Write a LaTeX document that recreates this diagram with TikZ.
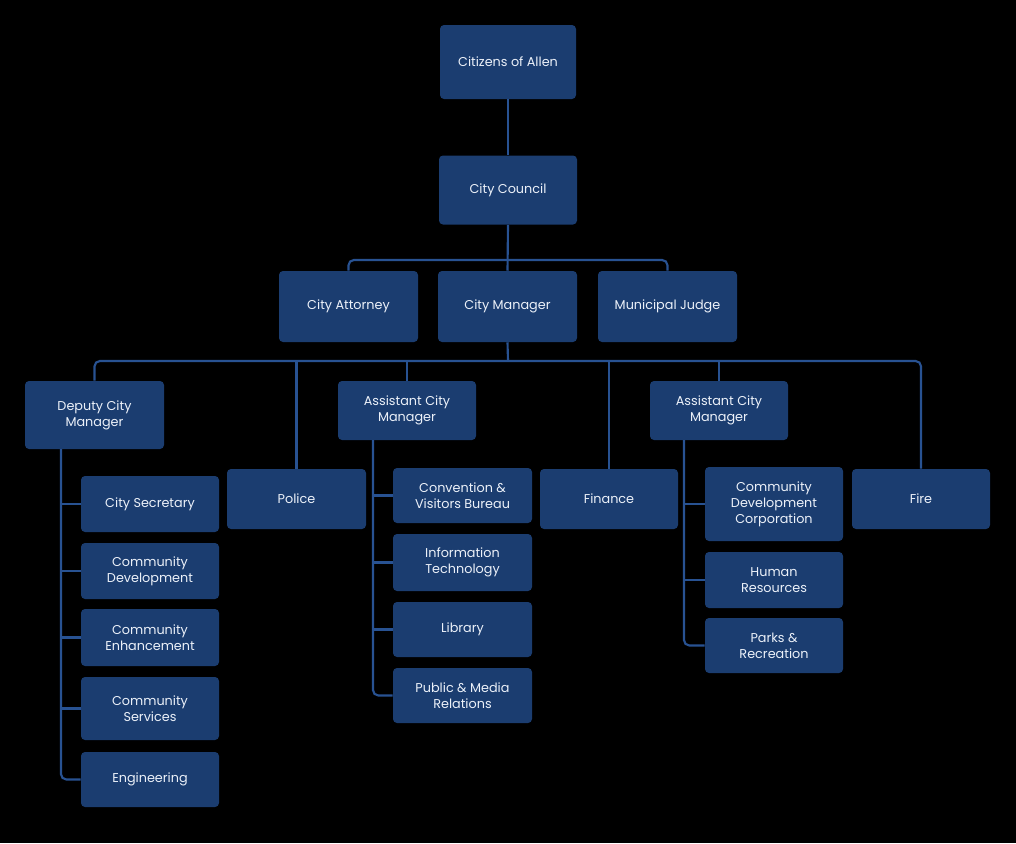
\documentclass[tikz,border=0pt]{standalone}
\usepackage{fontspec}
\setmainfont{Poppins}
\definecolor{boxblue}{RGB}{27,61,112}
\definecolor{lineblue}{RGB}{40,82,146}
\definecolor{txt}{RGB}{236,241,249}
\begin{document}
\begin{tikzpicture}[x=0.75pt,y=-0.75pt,
  unit/.style 2 args={draw=none, fill=boxblue, rounded corners=3pt, inner sep=0pt,
    minimum width=#1*0.75pt, minimum height=#2*0.75pt, align=center,
    text=txt, font=\fontsize{9.6pt}{12pt}\selectfont},
  link/.style={draw=lineblue, line width=1.6pt, rounded corners=4pt}]
\fill[black] (0,0) rectangle (1016,843);
\useasboundingbox (0,0) rectangle (1016,843);
% nodes
\node[unit={136}{74}] (cit) at (508,62) {Citizens of Allen};
\node[unit={138}{69}] (cc) at (508,190) {City Council};
\node[unit={139}{71}] (ca) at (348.5,306.5) {City Attorney};
\node[unit={139}{71}] (cm) at (507.5,306.5) {City Manager};
\node[unit={139}{71}] (mj) at (667.5,306.5) {Municipal Judge};
\node[unit={139}{68}] (dcm) at (94.5,415) {Deputy City\\Manager};
\node[unit={139}{60}] (pol) at (296.5,499) {Police};
\node[unit={138}{59}] (acma) at (407,410.5) {Assistant City\\Manager};
\node[unit={138}{60}] (fin) at (609,499) {Finance};
\node[unit={138}{59}] (acmb) at (719,410.5) {Assistant City\\Manager};
\node[unit={138}{60}] (fire) at (921,499) {Fire};
% deputy children
\node[unit={138}{56}] (cs) at (150,504) {City Secretary};
\node[unit={138}{56}] (cd) at (150,571) {Community\\Development};
\node[unit={138}{57}] (ce) at (150,637.5) {Community\\Enhancement};
\node[unit={138}{63}] (csv) at (150,708.5) {Community\\Services};
\node[unit={138}{55}] (eng) at (150,779.5) {Engineering};
% assistant 1 children
\node[unit={139}{55}] (cvb) at (462.5,495.5) {Convention \&\\Visitors Bureau};
\node[unit={139}{57}] (it) at (462.5,562.5) {Information\\Technology};
\node[unit={139}{55}] (lib) at (462.5,629.5) {Library};
\node[unit={139}{55}] (pmr) at (462.5,695.5) {Public \& Media\\Relations};
% assistant 2 children
\node[unit={138}{74}] (cdc) at (774,504) {Community\\Development\\Corporation};
\node[unit={138}{56}] (hr) at (774,580) {Human\\Resources};
\node[unit={138}{55}] (pr) at (774,645.5) {Parks \&\\Recreation};
% coordinates
\coordinate (b1) at (508,260);
\coordinate (b2) at (508,361);
\coordinate (tdA) at (61,449);
\coordinate (tdB) at (373,440);
\coordinate (tdC) at (684,440);
% connectors
\draw[link] (cit.south) -- (cc.north);
\draw[link] (cc.south) -- (cm.north);
\draw[link] (ca.north) |- (b1) -| (mj.north);
\draw[link] (cm.south) -- (b2);
\draw[link] (dcm.north) |- (b2) -| (fire.north);
\draw[link] (pol.north) -- (pol.north |- b2);
\draw[link] (acma.north) -- (acma.north |- b2);
\draw[link] (fin.north) -- (fin.north |- b2);
\draw[link] (acmb.north) -- (acmb.north |- b2);
% deputy trunk
\draw[link] (tdA) |- (eng.west);
\draw[link] (cs.west -| tdA) -- (cs.west);
\draw[link] (cd.west -| tdA) -- (cd.west);
\draw[link] (ce.west -| tdA) -- (ce.west);
\draw[link] (csv.west -| tdA) -- (csv.west);
% assistant 1 trunk
\draw[link] (tdB) |- (pmr.west);
\draw[link] (cvb.west -| tdB) -- (cvb.west);
\draw[link] (it.west -| tdB) -- (it.west);
\draw[link] (lib.west -| tdB) -- (lib.west);
% assistant 2 trunk
\draw[link] (tdC) |- (pr.west);
\draw[link] (cdc.west -| tdC) -- (cdc.west);
\draw[link] (hr.west -| tdC) -- (hr.west);
\end{tikzpicture}
\end{document}
